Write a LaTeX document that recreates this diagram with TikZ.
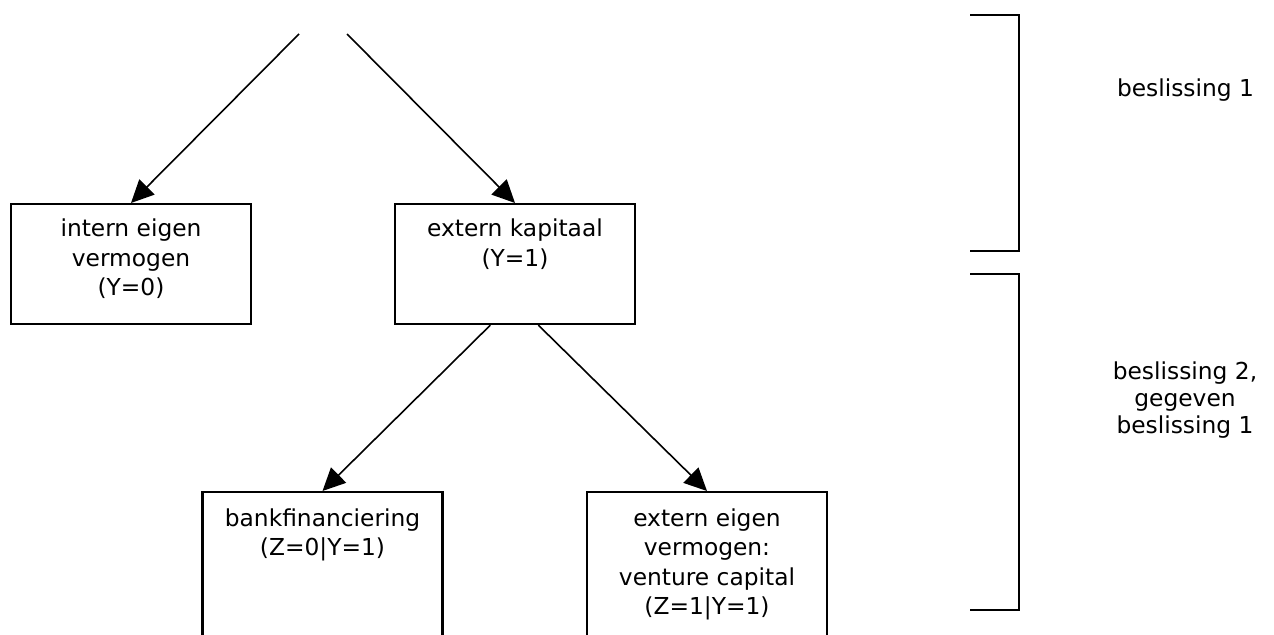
\documentclass[tikz,border=0pt]{standalone}
\usepackage{fontspec}
\setmainfont{DejaVu Sans}
\usetikzlibrary{arrows.meta}
\tikzset{choice/.style={draw, line width=1.6pt, minimum width=180pt, minimum height=90pt, anchor=north, inner sep=0pt}}
\tikzset{choicetext/.style={anchor=north, align=center, inner sep=0pt, font=\fontsize{17.5pt}{22pt}\selectfont}}
\tikzset{stagetext/.style={align=center, inner sep=0pt, font=\fontsize{17.5pt}{20pt}\selectfont}}
\tikzset{branch/.style={line width=1.2pt, -{Triangle[length=17pt, width=16pt]}}}
\tikzset{stage/.style={line width=1.6pt}}

\begin{document}
\begin{tikzpicture}[x=0.75pt, y=-0.75pt]
            \useasboundingbox (0, 0) rectangle (1274, 635);
            \clip (0, 0) rectangle (1274, 635);
            \coordinate (rootL) at (299, 34);
            \coordinate (rootR) at (347, 34);
            \node[choice] (intern) at (131, 203) {};
            \node[choice] (extern) at (515, 203) {};
            \node[choice, minimum height=120pt] (bank) at (322.5, 491) {};
            \node[choice, minimum height=120pt] (venture) at (707, 491) {};
            \node[choicetext] (internT) at ([yshift=-12pt]intern.north) {intern eigen\\vermogen\\(Y=0)};
            \node[choicetext] (externT) at ([yshift=-12pt]extern.north) {extern kapitaal\\(Y=1)};
            \node[choicetext] (bankT) at ([yshift=-13pt]bank.north) {bankfinanciering\\(Z=0|Y=1)};
            \node[choicetext] (ventureT) at ([yshift=-13pt]venture.north) {extern eigen\\vermogen:\\venture capital\\(Z=1|Y=1)};
            \draw[branch] (rootL) -- (intern.north);
            \draw[branch] (rootR) -- (extern.north);
            \draw[branch] ([xshift=-18.5pt]extern.south) -- (bank.north);
            \draw[branch] ([xshift=17.5pt]extern.south) -- (venture.north);
            \draw[stage] (970, 15) -| (1019, 251) -- (970, 251);
            \draw[stage] (970, 274) -| (1019, 610) -- (970, 610);
            \node[stagetext, anchor=base] (stage1) at (1185.5, 96) {beslissing 1};
            \node[stagetext] (stage2) at (1185, 400) {beslissing 2,\\gegeven\\beslissing 1};
        \end{tikzpicture}
\end{document}
